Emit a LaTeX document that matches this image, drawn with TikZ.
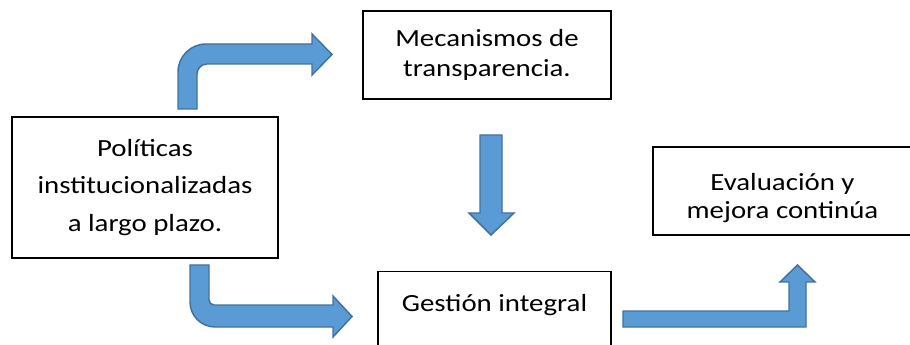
\documentclass[tikz,border=0pt]{standalone}
\usepackage{fontspec}
\setmainfont{Carlito}[FakeStretch=1.17]
\usepackage{tikz}
\definecolor{arrowfill}{HTML}{5B9BD5}
\definecolor{arrowline}{HTML}{41719C}
\tikzset{
  flowbox/.style    = {draw, line width=0.9pt, align=center, inner sep=0pt,
                       font=\fontsize{18.5}{22}\selectfont},
  blockarrow/.style = {fill=arrowfill, draw=arrowline, line width=1.1pt,
                       line join=miter}
}

\begin{document}
\begin{tikzpicture}[x=0.75pt, y=-0.75pt]
  \useasboundingbox (0,0) rectangle (910,345);

  \node[flowbox, minimum width=199.5pt, minimum height=105.75pt,
        font=\fontsize{18.5}{28}\selectfont]                     (pol) at (145,187.5)
        {Políticas\\institucionalizadas\\a largo plazo.};
  \node[flowbox, minimum width=186pt, minimum height=66pt]       (mec) at (487,55)
        {Mecanismos de\\transparencia.};
  \node[flowbox, anchor=north, minimum width=174.75pt,
        text height=30pt, text depth=37pt]                       (ges) at (494.5,271)
        {Gestión integral};
  \node[flowbox, minimum width=194.25pt, minimum height=66pt,
        font=\fontsize{18.5}{21}\selectfont]                     (eva) at (782.5,191)
        {\rule{0pt}{24pt}Evaluación y\\mejora continúa};

  % block arrows
  \draw[blockarrow] (178,109) -- (178,72) arc[start angle=180, end angle=270, radius=28]
        -- (312,44) -- (312,34) -- (332,54.5) -- (312,75) -- (312,64) -- (207,64)
        arc[start angle=270, end angle=180, radius=10] -- (197,109) -- cycle;
  \draw[blockarrow] (190,265) -- (190,302) arc[start angle=180, end angle=90, radius=25]
        -- (333,327) -- (333,337) -- (352,316.5) -- (333,296) -- (333,305) -- (214,305)
        arc[start angle=90, end angle=180, radius=5] -- (209,265) -- cycle;
  \draw[blockarrow] (480,135) -- (502,135) -- (502,213) -- (514,213) -- (491,235)
        -- (469,213) -- (480,213) -- cycle;
  \draw[blockarrow] (623,311) -- (789,311) -- (789,282) -- (780,282) -- (797.5,265)
        -- (815,282) -- (806,282) -- (806,327) -- (623,327) -- cycle;
\end{tikzpicture}
\end{document}
